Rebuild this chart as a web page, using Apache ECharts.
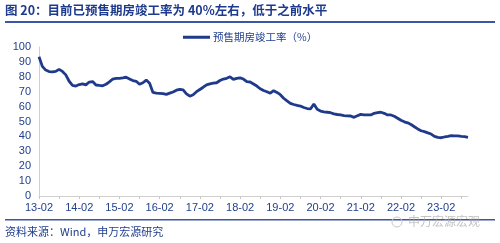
<!DOCTYPE html>
<html><head><meta charset="utf-8">
<script src="https://cdn.jsdelivr.net/npm/echarts@6/dist/echarts.min.js"></script>
<style>html,body{margin:0;padding:0;background:#fff;}#c{width:500px;height:243px;}</style>
</head><body><div id="c"></div>
<script>
// categories: monthly 2013-02 .. 2023-10, labelled "YY-MM"
var startYear = 13, startMonth = 2, nMonths = 129;
var categories = [];
for (var i = 0; i < nMonths; i++) {
  var m = startMonth - 1 + i;
  var y = startYear + Math.floor(m / 12);
  var mm = (m % 12) + 1;
  categories.push(y + '-' + (mm < 10 ? '0' + mm : mm));
}
var seriesName = '预售期房竣工率（%）';
var completionRate = [
  93.5,87,84.5,83.5,83.3,83.6,85,83.6,81.3,77,74.3,73.8,
  74.8,75.3,74.6,76.5,76.8,74.5,74.2,74,75,76.6,78.5,79,
  79,79.3,79.7,78.6,77.5,77,75,76,77.8,75.6,69.5,69,
  68.9,68.7,68.2,69,69.8,71,71.6,71.2,68.5,67,68,70,
  71.5,73,74.6,75.3,75.7,76,77.5,78.5,79,80,78.3,79,
  79.3,78.5,76.7,76.5,75.2,73.8,72,70.8,70,69,70.7,69.5,
  68,65.6,63.8,62.2,61.4,60.8,60.4,59.4,58.7,58.4,61.7,58.2,
  57,56.5,56.2,55.9,55.1,54.7,54.4,54,53.8,53.7,52.8,53.8,
  54.8,54.5,54.4,54.4,55.5,56,56.2,55.5,54.4,54.4,53.5,52.2,
  50.8,49.8,49.1,48,46.5,45,43.8,43.2,42.4,41.6,40,39.3,
  39.1,39.6,40,40.5,40.4,40.3,40,39.8,39.4
];
var yTicks = {min: 0, max: 100, interval: 10};
var titleText = '图 20：目前已预售期房竣工率为 40%左右，低于之前水平';
var sourceText = '资料来源：Wind，申万宏源研究';
var watermarkText = '申万宏源宏观';

var navy = '#1f3a8a';
var textBlue = '#23408e';
var font = '"Liberation Sans", "Noto Sans CJK SC", sans-serif';
var chart = echarts.init(document.getElementById('c'), null, {renderer: 'canvas'});
chart.setOption({
  animation: false,
  backgroundColor: '#fff',
  grid: {left: 39, right: 32, top: 47, bottom: 47, containLabel: false},
  legend: {
    data: [seriesName], top: 32, left: 183, padding: 0, itemWidth: 27, itemHeight: 3, itemGap: 4,
    icon: 'rect',
    textStyle: {color: textBlue, fontSize: 10.5, fontFamily: '"Noto Sans CJK SC", sans-serif', padding: [0,0,0,-2]}
  },
  xAxis: {
    type: 'category', data: categories, boundaryGap: false,
    axisLine: {lineStyle: {color: '#d0d0d0', width: 1}},
    axisTick: {show: true, interval: 5, length: 3, lineStyle: {color: '#c8c8c8'}},
    axisLabel: {interval: 11, color: textBlue, fontSize: 11, fontFamily: font, margin: 6}
  },
  yAxis: {
    type: 'value', min: yTicks.min, max: yTicks.max, interval: yTicks.interval,
    splitLine: {show: false},
    axisLine: {show: true, lineStyle: {color: '#d0d0d0'}},
    axisTick: {show: false},
    axisLabel: {color: textBlue, fontSize: 11, fontFamily: font, margin: 8}
  },
  series: [{
    name: seriesName, type: 'line', data: completionRate, showSymbol: false,
    smooth: false, lineStyle: {color: navy, width: 2.8}, itemStyle: {color: navy}
  }],
  graphic: [
    {type: 'text', left: 5, top: 4, style: {text: titleText, fill: '#1e3a8c', font: 'bold 12.5px "Noto Sans CJK SC", sans-serif'}},
    {type: 'rect', shape: {x: 5, y: 21, width: 490, height: 2}, style: {fill: '#3b56a6'}},
    {type: 'rect', shape: {x: 5, y: 219, width: 490, height: 1.5}, style: {fill: '#3b56a6'}},
    {type: 'text', left: 5, top: 226, style: {text: sourceText, fill: textBlue, font: '11px "Noto Sans CJK SC", sans-serif'}},
    {type: 'circle', shape: {cx: 397, cy: 222, r: 5}, style: {fill: 'none', stroke: '#c8c8c8', lineWidth: 1}},
    {type: 'text', left: 408, top: 215, style: {text: watermarkText, fill: 'rgba(170,170,170,0.7)', font: '12px "Noto Sans CJK SC", sans-serif'}}
  ]
});
</script>
</body></html>
